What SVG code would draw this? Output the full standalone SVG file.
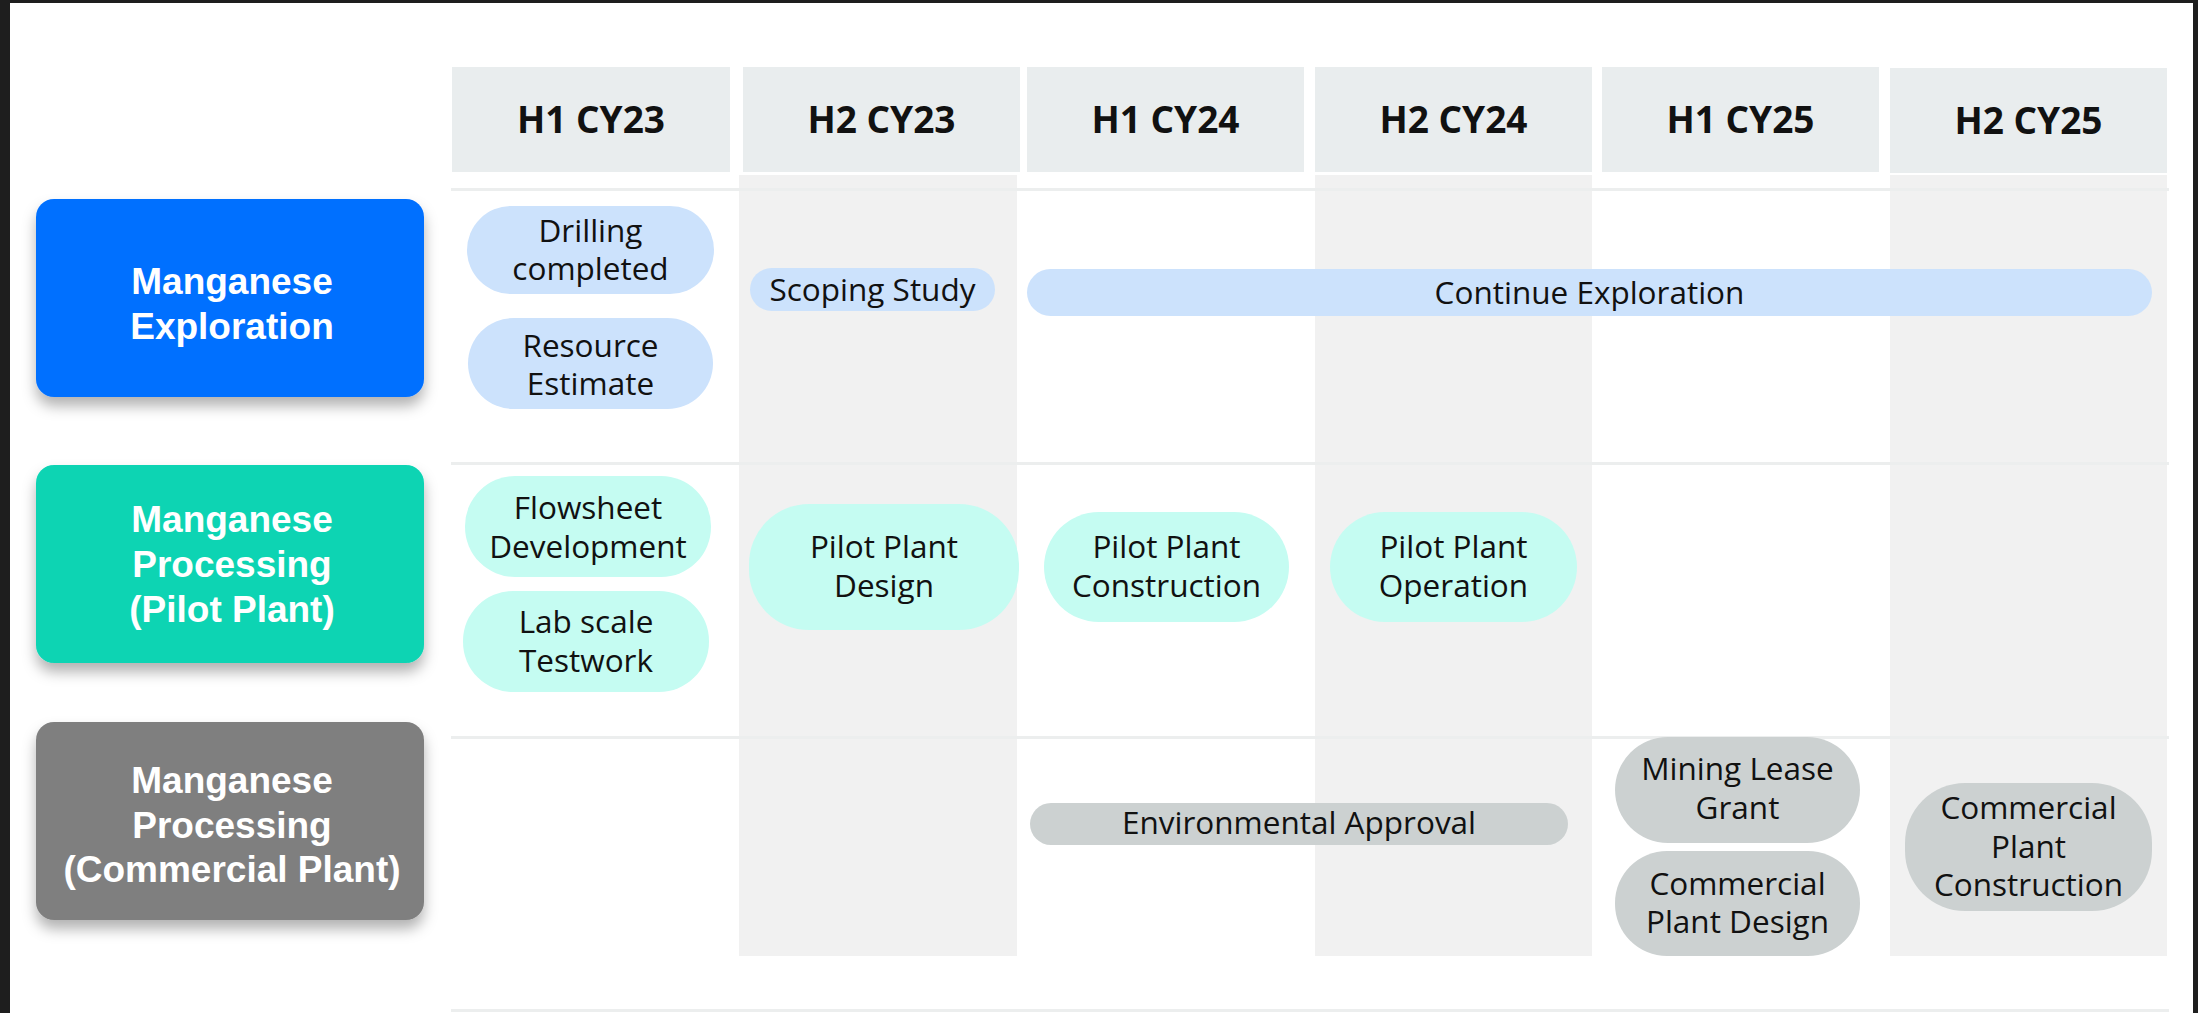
<svg xmlns="http://www.w3.org/2000/svg" width="2198" height="1013" viewBox="0 0 2198 1013">
<defs>
<filter id="sh" x="-10%" y="-10%" width="120%" height="135%">
<feDropShadow dx="0" dy="9" stdDeviation="7" flood-color="#000" flood-opacity="0.3"/>
</filter>
<style>
.hdr{fill:#E9EDEE}
.shade{fill:#F1F1F1}
.rowline{stroke:#ECEEEE;stroke-width:3}
.ht{font-family:"Open Sans","Liberation Sans",sans-serif;font-weight:700;font-size:37px;fill:#111;text-anchor:middle}
.lt{font-family:"Liberation Sans",Arial,sans-serif;font-weight:700;font-size:37px;fill:#fff;text-anchor:middle}
.pt{font-family:"Open Sans","Liberation Sans",sans-serif;font-size:31.5px;fill:#111;text-anchor:middle}
.blue{fill:#CCE2FC}
.teal{fill:#C5FCF2}
.gray{fill:#CCD1D1}
</style>
</defs>
<rect x="0" y="0" width="2198" height="1013" fill="#ffffff"/>
<rect x="0" y="0" width="2198" height="3" fill="#1e1e1e"/>
<rect x="0" y="0" width="10" height="1013" fill="#1e1e1e"/>
<rect x="2193" y="0" width="5" height="1013" fill="#1e1e1e"/>

<g id="grid">
<rect class="shade" x="739" y="175" width="278" height="781"/>
<rect class="shade" x="1315" y="175" width="277" height="781"/>
<rect class="shade" x="1890" y="175" width="277" height="781"/>
<line class="rowline" x1="451" y1="189.5" x2="2169" y2="189.5"/>
<line class="rowline" x1="451" y1="463.5" x2="2169" y2="463.5"/>
<line class="rowline" x1="451" y1="737.5" x2="2169" y2="737.5"/>
<line class="rowline" x1="451" y1="1010.5" x2="2169" y2="1010.5"/>
</g>

<g id="headers">
<g id="h1cy23"><rect class="hdr" x="452" y="67" width="278" height="105"/><text class="ht" x="591" y="133">H1 CY23</text></g>
<g id="h2cy23"><rect class="hdr" x="743" y="67" width="277" height="105"/><text class="ht" x="881.5" y="133">H2 CY23</text></g>
<g id="h1cy24"><rect class="hdr" x="1027" y="67" width="277" height="105"/><text class="ht" x="1165.5" y="133">H1 CY24</text></g>
<g id="h2cy24"><rect class="hdr" x="1315" y="67" width="277" height="105"/><text class="ht" x="1453.5" y="133">H2 CY24</text></g>
<g id="h1cy25"><rect class="hdr" x="1602" y="67" width="277" height="105"/><text class="ht" x="1740.5" y="133">H1 CY25</text></g>
<g id="h2cy25"><rect class="hdr" x="1890" y="68" width="277" height="105"/><text class="ht" x="2028.5" y="134">H2 CY25</text></g>
</g>

<g id="lane-exploration">
<rect x="36" y="199" width="388" height="198" rx="18" fill="#0070FF" filter="url(#sh)"/>
<text class="lt" x="232" y="294">Manganese</text>
<text class="lt" x="232" y="339">Exploration</text>
</g>
<g id="lane-pilot">
<rect x="36" y="465" width="388" height="198" rx="18" fill="#08D4B3" filter="url(#sh)"/>
<text class="lt" x="232" y="532">Manganese</text>
<text class="lt" x="232" y="577">Processing</text>
<text class="lt" x="232" y="622">(Pilot Plant)</text>
</g>
<g id="lane-commercial">
<rect x="36" y="722" width="388" height="198" rx="18" fill="#7F7F7F" filter="url(#sh)"/>
<text class="lt" x="232" y="793">Manganese</text>
<text class="lt" x="232" y="838">Processing</text>
<text class="lt" x="232" y="882">(Commercial Plant)</text>
</g>

<g id="drilling"><rect class="blue" x="467" y="206" width="247" height="88" rx="44"/><text class="pt" x="590.5" y="241.5">Drilling</text><text class="pt" x="590.5" y="279.5">completed</text></g>
<g id="resource"><rect class="blue" x="468" y="318" width="245" height="91" rx="45.5"/><text class="pt" x="590.5" y="356.5">Resource</text><text class="pt" x="590.5" y="394.5">Estimate</text></g>
<g id="scoping"><rect class="blue" x="750" y="268" width="245" height="43" rx="21.5"/><text class="pt" x="872.5" y="301">Scoping Study</text></g>
<g id="continue"><rect class="blue" x="1027" y="269" width="1125" height="47" rx="23.5"/><text class="pt" x="1589.5" y="303.5">Continue Exploration</text></g>

<g id="flowsheet"><rect class="teal" x="465" y="476" width="246" height="101" rx="50"/><text class="pt" x="588" y="519">Flowsheet</text><text class="pt" x="588" y="557.5">Development</text></g>
<g id="labscale"><rect class="teal" x="463" y="591" width="246" height="101" rx="50"/><text class="pt" x="586" y="633">Lab scale</text><text class="pt" x="586" y="671.5">Testwork</text></g>
<g id="ppdesign"><rect class="teal" x="749" y="504" width="270" height="126" rx="60"/><text class="pt" x="884" y="558">Pilot Plant</text><text class="pt" x="884" y="596.5">Design</text></g>
<g id="ppconstruction"><rect class="teal" x="1044" y="512" width="245" height="110" rx="55"/><text class="pt" x="1166.5" y="558">Pilot Plant</text><text class="pt" x="1166.5" y="596.5">Construction</text></g>
<g id="ppoperation"><rect class="teal" x="1330" y="512" width="247" height="110" rx="55"/><text class="pt" x="1453.5" y="558">Pilot Plant</text><text class="pt" x="1453.5" y="596.5">Operation</text></g>

<g id="envapproval"><rect class="gray" x="1030" y="803" width="538" height="42" rx="21"/><text class="pt" x="1299" y="834">Environmental Approval</text></g>
<g id="mininglease"><rect class="gray" x="1615" y="737" width="245" height="106" rx="53"/><text class="pt" x="1737.5" y="780">Mining Lease</text><text class="pt" x="1737.5" y="819">Grant</text></g>
<g id="cpdesign"><rect class="gray" x="1615" y="851" width="245" height="105" rx="52"/><text class="pt" x="1737.5" y="895">Commercial</text><text class="pt" x="1737.5" y="933">Plant Design</text></g>
<g id="cpconstruction"><rect class="gray" x="1905" y="783" width="247" height="128" rx="60"/><text class="pt" x="2028.5" y="819">Commercial</text><text class="pt" x="2028.5" y="857.5">Plant</text><text class="pt" x="2028.5" y="896">Construction</text></g>

<g id="connectors"></g>
</svg>
